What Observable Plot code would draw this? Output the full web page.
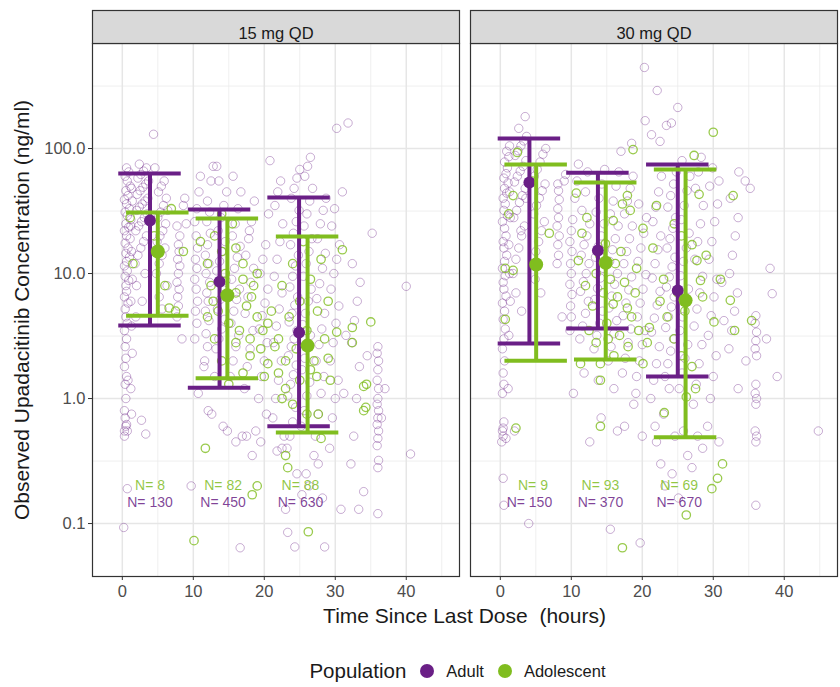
<!DOCTYPE html>
<html><head><meta charset="utf-8">
<script src="https://cdn.jsdelivr.net/npm/d3@7"></script>
<script src="https://cdn.jsdelivr.net/npm/@observablehq/plot@0.6"></script>
<style>
body{margin:0;background:#fff;font-family:"Liberation Sans",Arial,Helvetica,sans-serif;}
#wrap{width:840px;}
#xtitle{margin-left:92px;width:745px;text-align:center;font-size:21px;line-height:24px;color:#1a1a1a;height:24px;}
#legend{margin-left:92px;width:745px;margin-top:31px;display:flex;justify-content:center;align-items:center;color:#1a1a1a;}
#legend .ttl{font-size:20.5px;margin-right:14px;}
#legend .dot{width:14px;height:14px;border-radius:50%;display:inline-block;margin-right:12px;}
#legend .lab{font-size:16.5px;margin-right:14px;}
</style></head><body><div id="wrap"></div>
<script>
const doses = ["15 mg QD", "30 mg QD"];
const populations = ["Adult", "Adolescent"];
const popColors = ["#6a1f86", "#80bd1f"];
const xTicks = [0, 10, 20, 30, 40];
const xMinor = [5, 15, 25, 35, 45];
const yTicks = [0.1, 1, 10, 100];
const yMinor = [0.316, 3.16, 31.6, 316];
const xTitle = "Time Since Last Dose\u00a0 (hours)";
const yTitle = "Observed Upadacitinib Concentration (ng/ml)";

// [dose, population, nominal time (h), median, lower, upper]
const summaryRows = [
  ["15 mg QD","Adult",3.9,26.5,3.84,63],
  ["15 mg QD","Adolescent",5.0,15,4.6,30.8],
  ["15 mg QD","Adult",13.7,8.6,1.22,32.5],
  ["15 mg QD","Adolescent",14.8,6.7,1.45,27.5],
  ["15 mg QD","Adult",24.9,3.37,0.6,40.5],
  ["15 mg QD","Adolescent",26.1,2.65,0.535,19.8],
  ["30 mg QD","Adult",4.1,53.5,2.75,120],
  ["30 mg QD","Adolescent",5.05,11.8,2.01,74.5],
  ["30 mg QD","Adult",13.75,15.3,3.63,64],
  ["30 mg QD","Adolescent",14.85,12.2,2.05,53.5],
  ["30 mg QD","Adult",25.0,7.3,1.5,74.5],
  ["30 mg QD","Adolescent",26.1,6.1,0.49,68]
];
// [dose, population, bin time, N]
const nRows = [
  ["15 mg QD","Adolescent",3.9,8],["15 mg QD","Adult",3.9,130],
  ["15 mg QD","Adolescent",14.2,82],["15 mg QD","Adult",14.2,450],
  ["15 mg QD","Adolescent",25.1,88],["15 mg QD","Adult",25.1,630],
  ["30 mg QD","Adolescent",4.6,9],["30 mg QD","Adult",4.1,150],
  ["30 mg QD","Adolescent",14.1,93],["30 mg QD","Adult",14.1,370],
  ["30 mg QD","Adolescent",25.2,69],["30 mg QD","Adult",25.2,670]
];

// observed concentrations [time, conc]
const adult15 = [
[0.2,0.093],[0.3,0.55],[0.5,0.6],[0.4,0.7],[0.6,0.62],[0.3,0.8],[0.5,1.0],[0.7,0.55],[0.4,1.3],[0.6,1.5],[0.3,1.8],[0.5,2.1],[0.8,1.4],[0.4,2.6],[0.6,3.0],[0.3,3.5],[0.7,4.0],[0.5,4.5],[0.4,5.2],[0.8,5.8],[0.3,6.5],[0.6,7.2],[0.5,8.0],[0.9,8.8],[0.4,9.5],[0.7,10.5],[0.3,11.5],[0.6,12.5],[1.0,13.5],[0.5,14.5],[0.8,16],[0.4,17.5],[1.1,19],[0.6,20],[0.3,22],[0.9,23.5],[0.5,25],[1.2,27],[0.7,29],[0.4,31],[1.0,33],[0.6,36],[0.3,39],[0.8,42],[0.5,46],[1.1,50],[0.7,55],[0.4,60],[0.9,65],[0.6,70],[1.3,0.75],[1.2,1.2],[1.4,2.3],[1.3,3.8],[1.2,6.0],[1.4,9.0],[1.3,15],[1.2,24],[1.4,38],[1.3,48],[0.7,0.19],[0.3,0.5],
[1.8,12],[2.2,14],[2.6,16],[3.0,18],[3.4,20],[1.9,22],[2.3,24],[2.7,26],[3.1,28],[3.5,30],[2.0,32],[2.4,34],[2.8,36],[3.2,38],[3.6,40],[2.1,43],[2.5,46],[2.9,49],[3.3,52],[3.7,55],[2.2,58],[2.6,62],[3.0,66],[3.4,70],[2.4,75],[2.0,8],[2.8,6],[3.2,10],[2.7,0.67],[3.3,0.52],[4.4,130],[1.9,4.5],
[4.8,10],[5.2,12],[5.6,14],[6.0,16],[4.9,18],[5.3,20],[5.7,22],[6.1,25],[5.0,28],[5.4,31],[5.8,35],[6.2,40],[5.1,45],[5.5,50],[5.9,55],[6.3,8],[5.2,6.5],[5.6,5.2],[6.4,32],[4.6,70],
[7.7,4.5],[7.9,5.5],[7.8,6.5],[8.0,7.5],[7.7,8.5],[7.9,10],[8.1,11.5],[7.8,13],[8.0,15],[7.9,17],[8.1,20],[7.7,24],[8.6,35],[8.8,40],[8.4,3],[9.0,25],
[10.2,3],[10.5,4],[10.3,5],[10.6,6],[10.4,7.5],[10.2,9],[10.5,11],[10.3,13],[10.6,16],[10.4,20],[10.2,26],[10.5,33],[10.8,45],[11.0,60],[10.7,1.1],[9.7,0.2],
[11.6,2],[12.0,2.6],[11.8,3.3],[12.2,4.2],[11.7,5],[12.1,6],[11.9,7],[12.3,8.5],[11.8,10],[12.2,12],[11.7,14],[12.0,17],[12.4,21],[11.9,26],[12.3,31],[12.0,38],[12.5,55],[12.8,72],[13.3,72],[12.1,0.8],[12.6,0.75],[11.5,1.8],
[13.2,2.5],[13.6,3],[14.0,3.6],[14.4,4.3],[13.4,5.2],[13.8,6.2],[14.2,7.4],[14.6,8.8],[13.3,10.5],[13.7,12.5],[14.1,15],[14.5,18],[13.5,22],[13.9,28],[14.3,35],[14.7,45],[13.6,55],[14.8,0.55],[14.2,0.6],[13.0,1.5],
[15.2,1.5],[15.6,2],[16.0,2.6],[16.4,3.2],[15.3,4],[15.7,5],[16.1,6.2],[16.5,7.5],[15.4,9],[15.8,11],[16.2,13.5],[16.6,16.5],[15.5,20],[15.9,25],[16.3,33],[16.7,45],[15.6,60],[16.0,0.45],[16.9,0.5],[16.6,0.064],
[17.2,1.2],[17.6,1.8],[18.0,2.5],[18.4,3.5],[17.3,4.8],[17.7,6.5],[18.1,8.5],[18.5,11],[17.4,14],[17.8,19],[18.2,26],[18.6,38],[17.5,0.5],[18.3,0.35],[18.8,0.55],[17.9,22],
[19.2,1.0],[19.6,1.5],[20.0,2.0],[20.4,2.8],[19.3,3.6],[19.7,4.6],[20.1,5.8],[20.5,7.5],[19.4,10],[19.8,13],[20.2,17],[20.6,30],[20.8,80],[20.3,0.75],[19.5,0.45],
[21.2,0.7],[21.6,1.0],[22.0,1.4],[22.4,2.0],[21.3,2.8],[21.7,3.8],[22.1,5.2],[22.5,7],[21.4,9.5],[21.8,13],[22.2,18],[22.6,25],[21.5,35],[21.9,45],[22.3,55],[22.8,0.5],[22.5,0.4],[21.8,0.38],
[23.2,0.4],[23.6,0.5],[24.0,0.65],[24.4,0.85],[23.3,1.05],[23.7,1.3],[24.1,1.55],[24.5,1.85],[23.4,2.2],[23.8,2.6],[24.2,3.0],[24.6,3.5],[23.5,4.1],[23.9,4.8],[24.3,5.6],[24.7,6.5],[23.6,7.8],[24.0,9.5],[24.4,11.5],[24.8,14],[23.7,17],[24.1,21],[24.5,26],[24.9,32],[23.8,40],[24.2,48],[24.6,58],[25.0,68],[23.3,0.085],[24.3,0.065],[23.0,0.13],[24.6,0.25],
[25.2,0.6],[25.6,0.8],[26.0,1.05],[26.4,1.35],[25.3,1.7],[25.7,2.1],[26.1,2.6],[26.5,3.2],[25.4,3.9],[25.8,4.8],[26.2,6],[26.6,7.5],[25.5,9.5],[25.9,12],[26.3,15],[26.7,19],[25.6,24],[26.0,30],[26.4,38],[26.8,48],[25.7,60],[26.1,72],[26.5,85],[25.9,0.25],[26.3,0.2],[25.3,0.17],
[27.2,0.5],[27.6,0.75],[28.0,1.1],[28.4,1.5],[27.3,2],[27.7,2.7],[28.1,3.6],[28.5,4.8],[27.4,6.3],[27.8,8.3],[28.2,11],[28.6,14.5],[27.5,19],[27.9,25],[28.3,32],[28.7,40],[27.6,0.3],[28.2,0.16],[28.5,0.065],[27.0,0.35],
[29.2,0.4],[29.6,0.7],[30.0,1.0],[30.4,1.4],[29.3,2],[29.7,2.8],[30.1,4],[30.5,5.5],[29.4,7.5],[29.8,10],[30.2,13],[30.6,17],[29.5,24],[29.9,33],[31.0,45],[30.8,0.13],[30.2,145],[31.8,160],[31.5,3.2],[31.2,1.1],
[32.2,0.3],[32.6,0.5],[33.0,1.0],[33.4,1.8],[32.3,2.8],[32.7,4.2],[33.1,6],[33.5,8.5],[32.4,12],[33.3,0.13],[34.0,0.18],[34.5,2.2],
[36.0,0.12],[36.0,0.28],[36.1,0.32],[35.9,0.42],[36.0,0.48],[36.1,0.55],[35.9,0.62],[36.0,0.7],[36.1,0.8],[35.9,0.9],[36.0,1.0],[36.1,1.2],[35.9,1.4],[36.0,1.7],[36.1,2.0],[35.9,2.3],[36.0,2.6],
[35.2,21],[37,1.2],[36.5,0.7],[40.6,0.36],[40.0,7.9]
];
const adolescent15 = [
[1.1,28],[6.6,5.3],[6.9,33],[8.6,15],[4.5,20],[1.5,12],[7.5,5.0],[6.0,8],
[10.1,0.073],[11.7,0.4],[19.0,0.2],[18.3,0.17],[12,12],[12.5,8],[13,20],[13.5,5],[14,15],[14.5,10],[15,4],[15.5,25],[16,7],[16.5,3.5],[17,12],[17.5,5.5],[18,3],[18.5,8],[19,4.5],[19.5,2.5],[13,3],[14,2],[15,6.5],[16,2.8],[17,1.6],[18,2.2],[11,18],[12,4.5],[16,16],[17,9],[19,10],[20,1.5],[14,30],[15,1.3],[12.8,6],[18.2,6.5],[19.8,3.5],[20.5,4],
[26.2,0.086],[23,0.35],[23.3,0.28],[28,0.48],[26,0.75],[27.6,0.75],[34,1.25],[34.4,1.3],[34,0.8],[34.3,0.85],[35,4.1],[32.4,2.8],[32.4,3.7],[30.2,3.4],[29,2.1],[29.3,1.4],[27.4,1.5],[22.5,1.0],
[21,5],[22,3],[22.5,8],[23,2],[23.5,4.5],[24,12],[24.5,2.5],[25,6],[25.5,18],[26,3.5],[26.5,9],[27,2],[27.5,5],[28,13],[28.5,3],[29,6],[31,15.5],[22,1.6],[23,1.2],[25,1.4],[26.5,1.7],[24,0.9],[21.5,2.6],[20.5,1.9]
];
const adult30 = [
[0.2,0.45],[0.4,0.5],[0.3,0.55],[0.5,0.65],[0.3,1.1],[0.5,1.3],[0.4,1.6],[0.6,2.0],[0.3,2.5],[0.5,3.0],[0.7,3.6],[0.4,4.3],[0.6,5.0],[0.3,5.8],[0.8,6.6],[0.5,7.5],[0.4,8.5],[0.7,9.6],[0.3,11],[0.6,12.5],[0.9,14],[0.5,16],[0.4,18],[0.8,20],[0.6,23],[0.3,26],[1.0,29],[0.5,32],[0.7,36],[0.4,40],[0.9,44],[0.6,48],[1.1,53],[0.5,58],[0.8,63],[1.0,70],[0.6,78],[1.2,86],[0.9,95],[1.3,105],[0.4,0.23],[0.5,0.14],[1.2,3.2],[1.4,6],[1.3,10],[1.2,17],[1.4,28],[1.3,45],[1.1,1.2],[0.8,0.48],[0.4,0.58],
[1.8,10],[2.2,13],[2.6,16],[3.0,20],[3.4,24],[1.9,28],[2.3,32],[2.7,37],[3.1,42],[3.5,48],[2.0,54],[2.4,60],[2.8,66],[3.2,72],[3.6,80],[2.1,88],[2.5,96],[2.9,105],[3.3,115],[3.7,125],[2.6,145],[3.5,180],[2.2,7],[3.0,5],[2.0,0.55],[3.6,40],[2.9,22],
[4.6,12],[5.0,15],[5.4,18],[5.8,22],[6.2,26],[4.7,30],[5.1,35],[5.5,40],[5.9,46],[6.3,52],[4.8,60],[5.2,68],[5.6,78],[6.0,90],[4.9,9],[5.7,7],[4.0,0.1],[6.4,100],
[8.0,12],[8.2,14],[8.1,17],[8.3,20],[8.0,24],[8.2,28],[8.1,33],[8.3,39],[8.2,46],[8.1,52],[9.0,55],[8.7,4.5],[9.2,62],
[9.8,3.5],[10.0,4.5],[9.9,5.5],[10.1,6.8],[9.8,8.2],[10.0,10],[9.9,12],[10.1,15],[9.8,18],[10.0,22],[10.2,27],[10.5,40],[10.8,55],[11.0,75],[10.3,1.1],
[11.2,3],[11.6,3.8],[12.0,4.8],[12.4,6],[11.3,7.2],[11.7,8.6],[12.1,10],[12.5,12],[11.4,14],[11.8,17],[12.2,20],[12.6,25],[11.5,32],[12.0,45],[12.3,65],[12.6,0.45],[11.8,1.6],
[13.2,2.5],[13.6,3.2],[14.0,4],[14.4,5],[13.3,6.2],[13.7,7.6],[14.1,9.2],[14.5,11],[13.4,13.5],[13.8,16.5],[14.2,20],[14.6,25],[13.5,31],[13.9,40],[14.3,52],[14.7,68],[15.5,0.09],[14.2,0.7],[13.8,1.4],
[15.2,2],[15.6,2.6],[16.0,3.3],[16.4,4.2],[15.3,5.3],[15.7,6.6],[16.1,8.2],[16.5,10],[15.4,12.5],[15.8,15.5],[16.2,19],[16.6,24],[15.5,30],[15.9,38],[16.3,50],[16.7,65],[16.0,1.2],[16.5,0.55],
[17.2,1.6],[17.6,2.1],[18.0,2.8],[18.4,3.6],[17.3,4.6],[17.7,5.8],[18.1,7.4],[18.5,9.4],[17.4,12],[17.8,15],[18.2,19],[18.6,24],[17.5,30],[17.9,38],[18.3,48],[18.7,60],[17.0,95],[18.5,110],[17.5,0.6],[18.8,0.9],
[19.2,1.5],[19.6,2],[20.0,2.7],[20.4,3.5],[19.3,4.5],[19.7,5.8],[20.1,7.5],[20.5,9.8],[19.4,12.5],[19.8,16],[20.2,21],[20.6,28],[19.5,36],[20.3,445],[20.4,167],[19.7,0.07],[20.0,0.5],[19.1,1.1],
[21.2,1],[21.6,1.4],[22.0,1.9],[22.4,2.6],[21.3,3.4],[21.7,4.4],[22.1,5.6],[22.5,7.2],[21.4,9.2],[21.8,12],[22.2,15.5],[22.6,20],[21.5,26],[21.9,34],[22.3,45],[22.7,60],[21.3,129],[22.1,291],[22.5,114],[22.0,0.45],[22.6,0.3],[21.8,0.6],
[23.2,1.5],[23.6,1.9],[24.0,2.4],[24.4,3],[23.3,3.7],[23.7,4.5],[24.1,5.4],[24.5,6.5],[23.4,7.8],[23.8,9.4],[24.2,11.3],[24.6,13.5],[23.5,16],[23.9,19],[24.3,23],[24.7,28],[23.6,34],[24.0,42],[24.4,52],[24.8,65],[24.1,160],[23.4,153],[25.0,213],[23.2,0.2],[24.2,0.25],[23.0,0.75],[24.6,0.5],[23.8,1.2],
[25.2,1.2],[25.6,1.6],[26.0,2.1],[26.4,2.7],[25.3,3.5],[25.7,4.5],[26.1,5.8],[26.5,7.5],[25.4,9.6],[25.8,12.5],[26.2,16],[26.6,21],[25.5,27],[25.9,35],[26.3,46],[26.7,60],[25.6,80],[26.4,0.35],[25.8,0.55],[25.1,0.16],
[27.2,0.9],[27.6,1.3],[28.0,1.9],[28.4,2.7],[27.3,3.8],[27.7,5.2],[28.1,7],[28.5,9.5],[27.4,13],[27.8,18],[28.2,25],[28.6,35],[27.5,48],[27.9,65],[28.3,85],[27.8,0.5],[28.5,0.4],[27.0,0.28],
[29.2,0.6],[29.6,1.0],[30.0,1.5],[30.4,2.2],[29.3,3.2],[29.7,4.6],[30.1,6.5],[30.5,9],[29.4,13],[29.8,18],[30.2,26],[30.6,36],[29.5,50],[29.9,70],[30.8,55],[31.5,4.2],[30.8,0.45],[31.2,8.5],
[32.2,2.5],[32.6,3.5],[33.0,5],[33.4,7],[32.3,10],[32.7,14],[33.1,20],[33.5,28],[32.4,40],[33.6,65],[34.5,55],[35.2,48],[33.5,1.2],[34.6,2],
[36.0,0.14],[36.0,0.45],[36.1,0.5],[35.9,0.55],[36.0,0.9],[36.1,1.0],[35.9,1.1],[36.0,1.3],[36.1,2.2],[35.9,2.5],[36.0,2.9],[36.1,3.4],[35.9,4.0],[36.0,4.6],
[38.0,11],[38.3,6.9],[39.0,1.5],[44.8,0.55],[37.5,3.0]
];
const adolescent30 = [
[0.7,4.3],[2.2,0.58],[1.8,42],[6.9,21],[0.7,11],[1.8,10.6],[2.4,93],[1.2,30],[4.5,55],
[10.7,44],[14.8,17.3],[17.9,42],[17.2,36],[11,12.7],[12.2,28],[15.9,26.5],[18.3,32],[18.7,98],[11.3,1.9],[14.1,1.9],[14.1,1.4],[14.1,0.6],[17.2,0.064],[17.9,5.3],[15.9,5.7],[12,8],[13,5.5],[13.5,10],[14.5,7],[15,4],[15.5,9],[16.5,6.5],[16.8,3.2],[17.5,8.5],[18.5,4.5],[19,7],[19.5,3.5],[12.5,3.5],[13.5,2.8],[16,2.2],[18,2.6],[19.2,11],[14,14],[16.2,12],[11.5,21],[15.2,3],[17,15],
[26.2,0.117],[29.8,0.19],[30.6,0.23],[31.3,0.3],[30,135],[26.2,1.03],[27.5,1.2],[23.1,0.77],[32.8,42],[20.1,1.9],[21,3.7],[20.7,2.8],[21.5,16],[20.1,23],[22.5,6],[23,9],[23.5,4.5],[24.5,25],[24.5,3],[25,7],[25.5,20],[26,5],[27,17],[27.7,12.7],[28.2,8.8],[27.3,88],[28,43],[32.4,6.1],[28.5,6.5],[29,14],[30.1,4.1],[31,9],[22,35],[35.4,4.2],[25.5,2.2],[27,1.8],[33,3.5]
];

const color = {domain: populations, range: popColors};
const points = [];
for (const [arr, dose, pop] of [[adult15, doses[0], "Adult"], [adult30, doses[1], "Adult"], [adolescent15, doses[0], "Adolescent"], [adolescent30, doses[1], "Adolescent"]]) {
  for (const [t, c] of arr) points.push({dose, pop, t, c});
}
const adultPts = points.filter(d => d.pop === "Adult");
const adolPts = points.filter(d => d.pop === "Adolescent");
const summary = summaryRows.map(([dose, pop, time, med, lo, hi]) => ({dose, pop, time, med, lo, hi}));
const sumAdult = summary.filter(d => d.pop === "Adult");
const sumAdol = summary.filter(d => d.pop === "Adolescent");
const nLabels = nRows.map(([dose, pop, time, n]) => ({dose, pop, time, n}));

const width = 840, height = 604;
const marginTop = 43, marginBottom = 28, marginLeft = 92, marginRight = 3;
const panelH = height - marginTop - marginBottom;
const stripH = 33;
const capHalf = 4.4;
const nLabelY = {Adolescent: 0.2, Adult: 0.147};

function bars(data) {
  return [
    Plot.ruleX(data, {fx: "dose", x: "time", y1: "lo", y2: "hi", stroke: "pop", strokeWidth: 4}),
    Plot.ruleY(data, {fx: "dose", y: "lo", x1: d => d.time - capHalf, x2: d => d.time + capHalf, stroke: "pop", strokeWidth: 4}),
    Plot.ruleY(data, {fx: "dose", y: "hi", x1: d => d.time - capHalf, x2: d => d.time + capHalf, stroke: "pop", strokeWidth: 4})
  ];
}

const chart = Plot.plot({
  width, height, marginTop, marginBottom, marginLeft, marginRight,
  style: {fontFamily: "'Liberation Sans', Arial, Helvetica, sans-serif", fontSize: "16px", background: "white", overflow: "visible"},
  fx: {domain: doses, paddingInner: 11 / 378, paddingOuter: 0, axis: null, label: null},
  x: {domain: [-4.2, 47.5], label: null},
  y: {type: "log", domain: [0.0377, 692], label: null},
  color,
  marks: [
    Plot.ruleX(xMinor, {stroke: "#ebebeb", strokeWidth: 0.8}),
    Plot.ruleY(yMinor, {stroke: "#ebebeb", strokeWidth: 0.8}),
    Plot.ruleX(xTicks, {stroke: "#e6e6e6", strokeWidth: 1.5}),
    Plot.ruleY(yTicks, {stroke: "#e6e6e6", strokeWidth: 1.5}),
    Plot.dot(adultPts, {fx: "dose", x: "t", y: "c", r: 4.2, stroke: "pop", strokeOpacity: 0.36, strokeWidth: 1}),
    Plot.dot(adolPts, {fx: "dose", x: "t", y: "c", r: 4.2, stroke: "pop", strokeOpacity: 0.8, strokeWidth: 1.3}),
    ...bars(sumAdult),
    Plot.dot(sumAdult, {fx: "dose", x: "time", y: "med", r: 6, fill: "pop"}),
    ...bars(sumAdol),
    Plot.dot(sumAdol, {fx: "dose", x: "time", y: "med", r: 7, fill: "pop"}),
    Plot.text(nLabels, {fx: "dose", x: "time", y: d => nLabelY[d.pop], text: d => "N= " + d.n, fill: "pop", fillOpacity: 0.85, fontSize: 14}),
    Plot.frame({stroke: "#333", strokeWidth: 1.2}),
    Plot.frame({fill: "#d9d9d9", stroke: "#333", strokeWidth: 1.2, insetTop: -stripH, insetBottom: panelH}),
    Plot.text(doses, {fx: d => d, text: d => d, frameAnchor: "top", dy: -stripH / 2, fill: "#1a1a1a", fontSize: 16.5}),
    Plot.axisX({ticks: xTicks, tickSize: 4, tickPadding: 5, stroke: "#333", fill: "#4d4d4d", fontSize: 16.5, label: null}),
    Plot.axisY({ticks: yTicks, tickFormat: d3.format(".1f"), tickSize: 4, tickPadding: 3, stroke: "#333", fill: "#4d4d4d", fontSize: 16.5, label: null}),
    Plot.text([yTitle], {fx: () => doses[0], text: d => d, frameAnchor: "left", textAnchor: "middle", rotate: -90, dx: -70, fill: "#1a1a1a", fontSize: 21})
  ]
});

const wrap = document.getElementById("wrap");
wrap.appendChild(chart);
const xt = document.createElement("div");
xt.id = "xtitle"; xt.textContent = xTitle;
wrap.appendChild(xt);
const lg = document.createElement("div");
lg.id = "legend";
lg.innerHTML = `<span class="ttl">Population</span>` + populations.map((p, i) =>
  `<span class="dot" style="background:${popColors[i]}"></span><span class="lab">${p}</span>`).join("");
wrap.appendChild(lg);
</script></body></html>
